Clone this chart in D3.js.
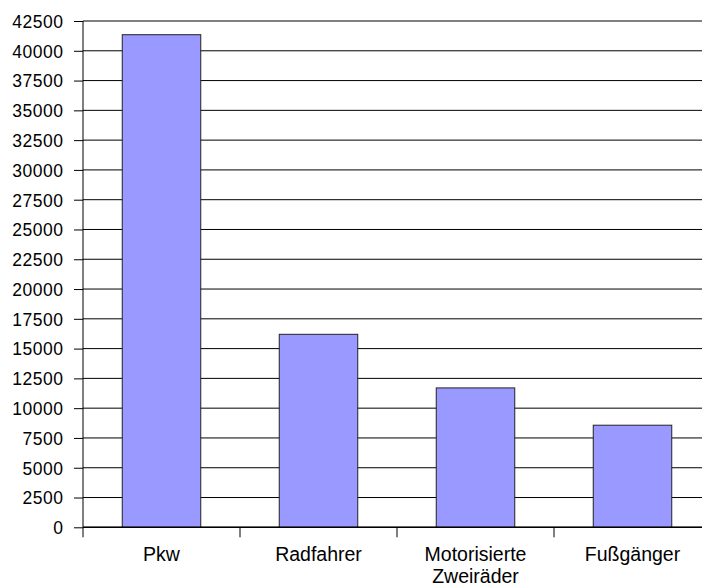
<!DOCTYPE html>
<html>
<head>
<meta charset="utf-8">
<script src="https://cdn.jsdelivr.net/npm/d3@7"></script>
<style>
  html, body { margin: 0; padding: 0; background: #fff; }
  svg { display: block; font-family: "Liberation Sans", Arial, sans-serif; }
</style>
</head>
<body>
<svg id="chart" width="702" height="585"></svg>
<script>
// Verunglückte nach Art der Verkehrsbeteiligung
const categories = ["Pkw", "Radfahrer", "Motorisierte Zweiräder", "Fußgänger"];
const values = [41350, 16200, 11700, 8570];
const yTicks = d3.range(0, 42501, 2500);

const svg = d3.select("#chart");
const plotLeft = 83, plotTop = 21, plotBottom = 527.3, plotRight = 711;

const x = d3.scaleBand()
  .domain(categories)
  .range([plotLeft, plotRight])
  .paddingInner(0.5)
  .paddingOuter(0.25);

const y = d3.scaleLinear()
  .domain([0, 42500])
  .range([plotBottom, plotTop]);

// horizontal gridlines
svg.append("g")
  .selectAll("line")
  .data(yTicks)
  .join("line")
  .attr("x1", plotLeft).attr("x2", plotRight)
  .attr("y1", d => y(d)).attr("y2", d => y(d))
  .attr("stroke", "#000")
  .attr("stroke-width", 1);

// bars
svg.append("g")
  .selectAll("rect")
  .data(categories)
  .join("rect")
  .attr("x", d => x(d))
  .attr("width", x.bandwidth())
  .attr("y", (d, i) => y(values[i]))
  .attr("height", (d, i) => plotBottom - y(values[i]))
  .attr("fill", "#9999ff")
  .attr("stroke", "#222")
  .attr("stroke-width", 1);

// y axis
const yAxis = d3.axisLeft(y)
  .tickValues(yTicks)
  .tickSize(9)
  .tickPadding(10.5)
  .tickFormat(d3.format("d"));
const gy = svg.append("g")
  .attr("transform", `translate(${plotLeft},0)`)
  .call(yAxis);
gy.select(".domain").attr("stroke", "#000").attr("d", `M0,${plotTop}V${plotBottom + 10}`);
gy.selectAll(".tick line").attr("stroke", "#000");
gy.selectAll(".tick text")
  .attr("fill", "#000")
  .style("font-size", "17.5px")
  .style("letter-spacing", "0.5px")
  .attr("dy", "0.36em");

// x axis baseline and category separators
svg.append("line")
  .attr("x1", plotLeft).attr("x2", plotRight)
  .attr("y1", plotBottom).attr("y2", plotBottom)
  .attr("stroke", "#000").attr("stroke-width", 1.5);

const bounds = categories.map(c => x(c) - x.step() * x.paddingOuter());
bounds.push(plotRight);
svg.append("g")
  .selectAll("line")
  .data(bounds.slice(1))
  .join("line")
  .attr("x1", d => d).attr("x2", d => d)
  .attr("y1", plotBottom).attr("y2", plotBottom + 10)
  .attr("stroke", "#000");

// category labels, wrapped onto two lines when too wide
const labels = svg.append("g")
  .selectAll("text")
  .data(categories)
  .join("text")
  .attr("x", d => x(d) + x.bandwidth() / 2)
  .attr("y", 560.5)
  .attr("text-anchor", "middle")
  .attr("fill", "#000")
  .style("font-size", "19.5px");
labels.each(function(d) {
  const words = d.split(" ");
  const t = d3.select(this);
  words.forEach((w, i) => {
    t.append("tspan")
      .attr("x", x(d) + x.bandwidth() / 2)
      .attr("dy", i === 0 ? 0 : 22.3)
      .text(w);
  });
});
</script>
</body>
</html>
